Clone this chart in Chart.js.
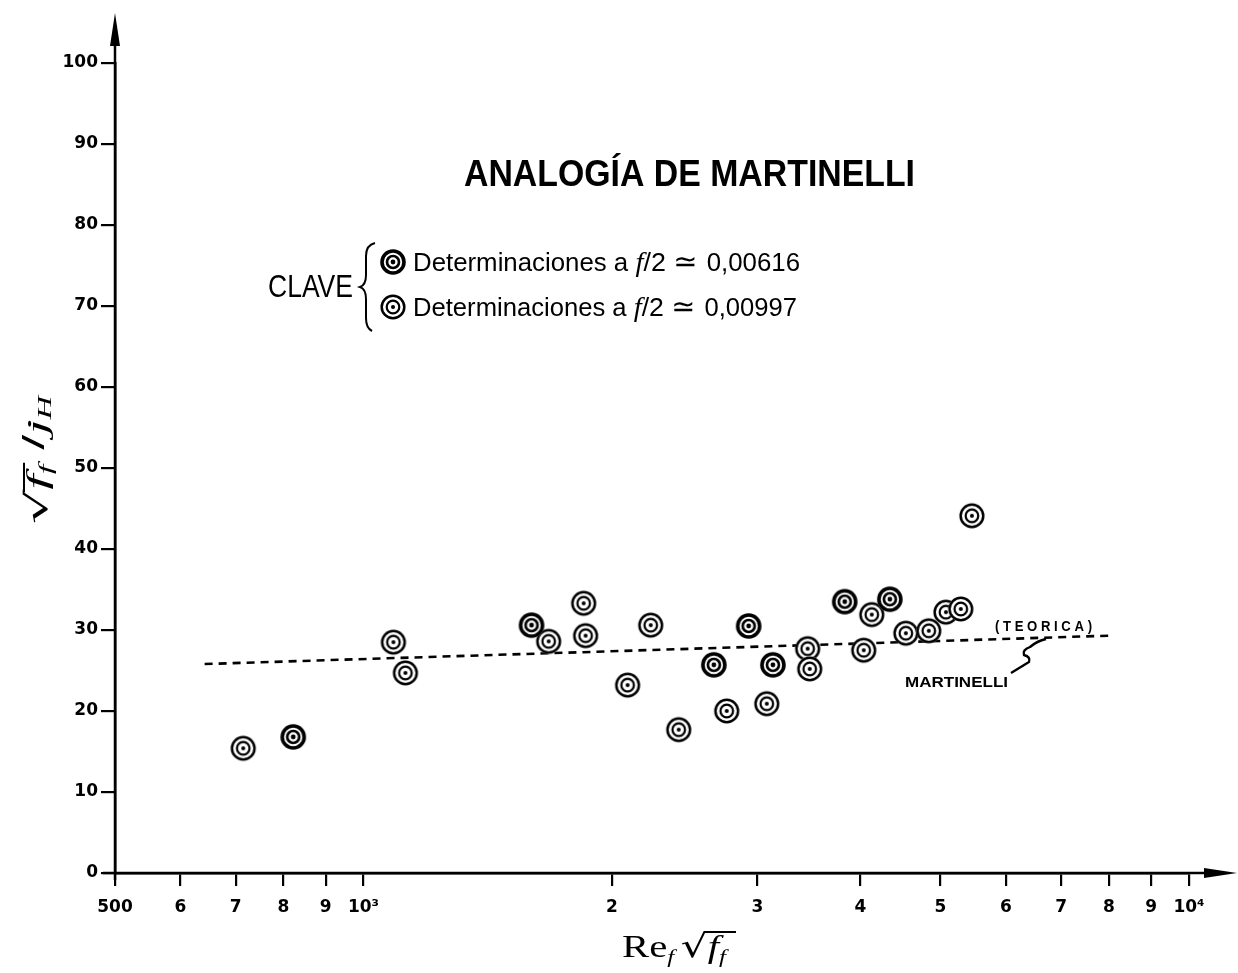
<!DOCTYPE html>
<html>
<head>
<meta charset="utf-8">
<script src="https://cdn.jsdelivr.net/npm/chart.js@4/dist/chart.umd.min.js"></script>
<style>
html,body{margin:0;padding:0;background:#fff;}
#wrap{width:1238px;height:973px;}
canvas{display:block;}
</style>
</head>
<body>
<div id="wrap"><canvas id="c" width="1238" height="973"></canvas></div>
<script>
// ---- data ----
const X_TICKS = [500,600,700,800,900,1000,2000,3000,4000,5000,6000,7000,8000,9000,10000];
const Y_TICKS = [0,10,20,30,40,50,60,70,80,90,100];
const SERIES_A_LABEL = 'Determinaciones a f/2 ≃ 0,00616';
const SERIES_B_LABEL = 'Determinaciones a f/2 ≃ 0,00997';
const seriesAX = [822,1598,2657,2928,3133,3828,4341];
const seriesAY = [16.8,30.6,25.7,30.5,25.7,33.5,33.8];
const seriesBX = [715,1087,1124,1676,1848,1858,2089,2228,2409,2754,3080,3452,3472,4036,4128,4539,4839,5076,5291,5458];
const seriesBY = [15.4,28.5,24.7,28.6,33.3,29.3,23.2,30.6,17.7,20.0,20.9,27.7,25.2,27.5,31.9,29.6,29.9,32.2,32.6,44.1];
const lineX = [642,8000];
const lineY = [25.8,29.3];

function xLabel(v){
  if (v === 500) return '500';
  if (v === 1000) return '10³';
  if (v === 10000) return '10⁴';
  return String(v >= 1000 ? v/1000 : v/100);
}

function makeMarker(outerR, outerW, innerR, innerW, dotR){
  const s = 34, c = document.createElement('canvas');
  c.width = s; c.height = s;
  const g = c.getContext('2d'), m = s/2;
  g.fillStyle = '#fff';
  g.beginPath(); g.arc(m,m,outerR+outerW/2,0,Math.PI*2); g.fill();
  g.strokeStyle = '#000';
  g.lineWidth = outerW; g.beginPath(); g.arc(m,m,outerR,0,Math.PI*2); g.stroke();
  g.lineWidth = innerW; g.beginPath(); g.arc(m,m,innerR,0,Math.PI*2); g.stroke();
  g.fillStyle = '#000';
  g.beginPath(); g.arc(m,m,dotR,0,Math.PI*2); g.fill();
  return c;
}
const markerA = makeMarker(11.0,3.6,6.0,2.7,2.4);
const markerB = makeMarker(11.3,2.5,6.3,2.2,2.0);

function fitParts(ctx, parts, x, baseline, width){
  let W = 0;
  parts.forEach(p => { ctx.font = p.font; p.w = ctx.measureText(p.t).width; W += p.w; });
  const sx = width / W;
  ctx.save();
  ctx.translate(x, baseline);
  ctx.scale(sx, 1);
  let cx = 0;
  parts.forEach(p => {
    ctx.font = p.font;
    ctx.fillText(p.t, cx, p.dy || 0);
    p.x0 = x + cx*sx; cx += p.w; p.x1 = x + cx*sx;
  });
  ctx.restore();
  return parts;
}

const deco = {
  id: 'deco',
  afterDraw(chart){
    const ctx = chart.ctx;
    const xs = chart.scales.x, ys = chart.scales.y;
    const ox = xs.getPixelForValue(500), oy = ys.getPixelForValue(0);
    ctx.save();
    ctx.fillStyle = '#000'; ctx.strokeStyle = '#000';
    ctx.textBaseline = 'alphabetic'; ctx.textAlign = 'left';

    // axis extensions and arrows
    ctx.lineWidth = 2.5;
    ctx.beginPath(); ctx.moveTo(ox, oy+7); ctx.lineTo(ox, 40); ctx.stroke();
    ctx.beginPath(); ctx.moveTo(ox-12, oy); ctx.lineTo(1212, oy); ctx.stroke();
    ctx.beginPath(); ctx.moveTo(ox, 13); ctx.lineTo(ox-5, 46); ctx.lineTo(ox+5, 46); ctx.closePath(); ctx.fill();
    ctx.beginPath(); ctx.moveTo(1237, oy); ctx.lineTo(1204, oy-5); ctx.lineTo(1204, oy+5); ctx.closePath(); ctx.fill();

    // title
    fitParts(ctx, [{t:'ANALOGÍA DE MARTINELLI', font:'bold 37px "Liberation Sans"'}], 464, 186, 451);

    // key
    fitParts(ctx, [{t:'CLAVE', font:'32px "Liberation Sans"'}], 268, 297, 85);
    ctx.lineWidth = 2;
    ctx.beginPath();
    ctx.moveTo(375, 243);
    ctx.quadraticCurveTo(366, 245, 366, 256);
    ctx.lineTo(366, 275);
    ctx.quadraticCurveTo(366, 285, 360, 287);
    ctx.quadraticCurveTo(366, 289, 366, 299);
    ctx.lineTo(366, 318);
    ctx.quadraticCurveTo(366, 328, 372, 331);
    ctx.stroke();
    ctx.drawImage(markerA, 393-17, 262-17);
    ctx.drawImage(markerB, 393-17, 307-17);
    const rowParts = (num) => [
      {t:'Determinaciones a ', font:'25px "Liberation Sans"'},
      {t:'f', font:'italic 28px "Liberation Serif"'},
      {t:'/2 ', font:'26px "Liberation Sans"'},
      {t:'≃ ', font:'28px "DejaVu Sans"'},
      {t:num, font:'25px "Liberation Sans"'}
    ];
    fitParts(ctx, rowParts('0,00616'), 413, 271, 387);
    fitParts(ctx, rowParts('0,00997'), 413, 316, 384);

    // line annotations
    fitParts(ctx, [{t:'( T E O R I C A )', font:'bold 15px "Liberation Sans"'}], 995, 631, 97);
    fitParts(ctx, [{t:'MARTINELLI', font:'bold 15px "Liberation Sans"'}], 905, 687, 103);
    ctx.lineWidth = 2.4;
    ctx.beginPath();
    ctx.moveTo(1011, 673);
    ctx.lineTo(1029, 662);
    ctx.quadraticCurveTo(1031, 657, 1024, 655);
    ctx.quadraticCurveTo(1022, 650, 1030, 647);
    ctx.quadraticCurveTo(1037, 641, 1046, 639);
    ctx.stroke();

    // x-axis title
    const xp = fitParts(ctx, [
      {t:'Re', font:'31px "Liberation Serif"'},
      {t:'f', font:'italic 19px "Liberation Serif"', dy:6},
      {t:' ', font:'20px "Liberation Serif"'},
      {t:'√', font:'32px "DejaVu Sans"'},
      {t:'f', font:'italic 31px "Liberation Serif"'},
      {t:'f', font:'italic 19px "Liberation Serif"', dy:6}
    ], 622, 957, 104);
    ctx.lineWidth = 2;
    ctx.beginPath(); ctx.moveTo(xp[3].x1 - 3, 932); ctx.lineTo(736, 932); ctx.stroke();

    // y-axis title (rotated)
    ctx.save();
    ctx.translate(47, 524);
    ctx.rotate(-Math.PI/2);
    const yp = fitParts(ctx, [
      {t:'√', font:'30px "DejaVu Sans"'},
      {t:'f', font:'italic 30px "Liberation Serif"'},
      {t:'f', font:'italic 19px "Liberation Serif"', dy:5},
      {t:' /', font:'30px "Liberation Sans"', dy:-3},
      {t:'j', font:'italic 30px "Liberation Serif"'},
      {t:'H', font:'italic 18px "Liberation Serif"', dy:4}
    ], 0, 0, 128);
    ctx.lineWidth = 2;
    ctx.beginPath(); ctx.moveTo(yp[0].x1 - 3, -23); ctx.lineTo(yp[2].x1 + 2, -23); ctx.stroke();
    ctx.restore();

    ctx.restore();
  }
};

const tickFont = {family:'"DejaVu Sans"', weight:'bold', size:17};

new Chart(document.getElementById('c'), {
  type: 'scatter',
  data: {
    datasets: [
      {label: SERIES_A_LABEL, data: seriesAX.map((x,i)=>({x, y:seriesAY[i]})), pointStyle: markerA, pointRadius: 12, showLine:false, clip:false},
      {label: SERIES_B_LABEL, data: seriesBX.map((x,i)=>({x, y:seriesBY[i]})), pointStyle: markerB, pointRadius: 12, showLine:false, clip:false},
      {type:'line', label:'Martinelli (teórica)', data: lineX.map((x,i)=>({x, y:lineY[i]})), borderColor:'#000', borderWidth:2.6, borderDash:[8,6], pointRadius:0, fill:false, tension:0}
    ]
  },
  options: {
    responsive: false,
    animation: false,
    devicePixelRatio: 1,
    layout: {padding: {left:0, right:49, top:63, bottom:0}, autoPadding:false},
    plugins: {legend:{display:false}, tooltip:{enabled:false}},
    scales: {
      x: {
        type: 'logarithmic', min: 500, max: 10000,
        afterBuildTicks(s){ s.ticks = X_TICKS.map(v => ({value:v})); },
        afterFit(s){ s.height = 100; },
        ticks: {callback: (v) => xLabel(v), autoSkip:false, maxRotation:0, minRotation:0, color:'#000', font: tickFont, padding: 11},
        grid: {drawOnChartArea:false, drawTicks:true, tickLength:13, color:'#000', lineWidth:2.2},
        border: {display:true, color:'#000', width:2.5}
      },
      y: {
        type: 'linear', min: 0, max: 100,
        afterBuildTicks(s){ s.ticks = Y_TICKS.map(v => ({value:v})); },
        afterFit(s){ s.width = 115; },
        ticks: {autoSkip:false, color:'#000', font: tickFont, padding: 3},
        grid: {drawOnChartArea:false, drawTicks:true, tickLength:14, color:'#000', lineWidth:2.2},
        border: {display:true, color:'#000', width:2.5}
      }
    }
  },
  plugins: [deco]
});
</script>
</body>
</html>
